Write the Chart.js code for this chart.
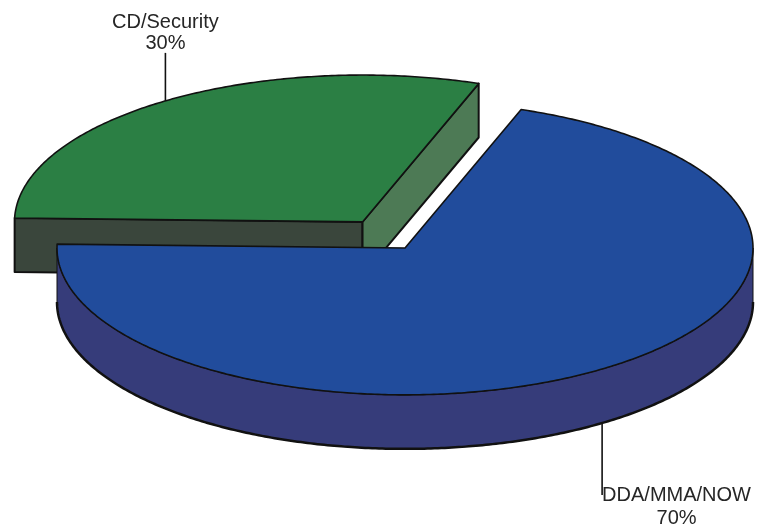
<!DOCTYPE html>
<html lang="en">
<head>
<meta charset="UTF-8" />
<title>Deposit mix</title>
<style>
    html, body { margin: 0; padding: 0; background: #fff; }
    #wrap { position: relative; width: 757px; height: 532px; }
</style>
</head>
<body>
<div id="wrap"><canvas id="pie"></canvas></div>
<script src="https://cdn.jsdelivr.net/npm/chart.js@4.4.0/dist/chart.umd.min.js"></script>
<script>
    // data
    const categories = ["CD/Security", "DDA/MMA/NOW"];
    const shares = [30, 70];
    const shareLabels = ["30%", "70%"];

    // look of the 3d pie
    const topColors = ["#2b7f44", "#214c9c"];
    const wallColors = ["#3b4a3f", "#363c7a"];
    const startFaceColors = ["#3a463c", "#2c3f86"]; // face along the first edge
    const endFaceColors = ["#4d7a55", "#2c3f86"];   // face along the second edge
    const explode = [75, 0];
    const tilt = 0.422;
    const depth = 54;
    const outline = "#111";

    function rim(el, t, d, cy) {
        const r = el.outerRadius;
        return [el.x + r * Math.cos(t), cy + tilt * (el.y - cy + r * Math.sin(t)) + d];
    }
    function centre(el, d, cy) {
        return [el.x, cy + tilt * (el.y - cy) + d];
    }
    function poly(ctx, pts, fill, lw) {
        ctx.beginPath();
        ctx.moveTo(pts[0][0], pts[0][1]);
        for (let i = 1; i < pts.length; i++) ctx.lineTo(pts[i][0], pts[i][1]);
        ctx.closePath();
        if (fill) { ctx.fillStyle = fill; ctx.fill(); }
        ctx.lineWidth = lw || 1;
        ctx.strokeStyle = outline;
        ctx.lineJoin = "round";
        ctx.stroke();
    }
    function arcPts(el, lo, hi, d, cy) {
        const pts = [];
        const n = Math.max(2, Math.ceil((hi - lo) / 0.01));
        for (let i = 0; i <= n; i++) pts.push(rim(el, lo + (hi - lo) * i / n, d, cy));
        return pts;
    }

    const pie3d = {
        id: "pie3d",
        afterUpdate(chart) {
            chart.getDatasetMeta(0).data.forEach((el, i) => {
                const mid = (el.startAngle + el.endAngle) / 2;
                el.x += Math.cos(mid) * explode[i];
                el.y += Math.sin(mid) * explode[i];
            });
        },
        beforeDatasetsDraw(chart) {
            const ctx = chart.ctx;
            const a = chart.chartArea;
            const cy = (a.top + a.bottom) / 2;
            chart.getDatasetMeta(0).data.forEach((el, i) => {
                // curved wall, front half only
                for (let n = -1; n <= 2; n++) {
                    const lo = Math.max(el.startAngle, n * 2 * Math.PI);
                    const hi = Math.min(el.endAngle, n * 2 * Math.PI + Math.PI);
                    if (hi <= lo) continue;
                    const pts = arcPts(el, lo, hi, 0, cy).concat(arcPts(el, lo, hi, depth, cy).reverse());
                    poly(ctx, pts, wallColors[i], 1);
                    ctx.beginPath();
                    arcPts(el, lo, hi, depth, cy).forEach((p, k) => k ? ctx.lineTo(p[0], p[1]) : ctx.moveTo(p[0], p[1]));
                    ctx.lineWidth = 2.5;
                    ctx.stroke();
                }
                // cut faces that turn toward the viewer
                const s = el.startAngle, e = el.endAngle;
                if (Math.cos(s) < 0) {
                    poly(ctx, [centre(el, 0, cy), rim(el, s, 0, cy), rim(el, s, depth, cy), centre(el, depth, cy)], startFaceColors[i], 2);
                }
                if (Math.cos(e) > 0) {
                    poly(ctx, [centre(el, 0, cy), rim(el, e, 0, cy), rim(el, e, depth, cy), centre(el, depth, cy)], endFaceColors[i], 2);
                }
            });
            ctx.save();
            ctx.translate(0, cy);
            ctx.scale(1, tilt);
            ctx.translate(0, -cy);
        },
        afterDatasetsDraw(chart) {
            const ctx = chart.ctx;
            ctx.restore();
            const a = chart.chartArea;
            const cy = (a.top + a.bottom) / 2;
            const arcs = chart.getDatasetMeta(0).data;
            arcs.forEach((el) => {
                const pts = [centre(el, 0, cy)].concat(arcPts(el, el.startAngle, el.endAngle, 0, cy));
                poly(ctx, pts, null, 1.6);
            });

            // labels with leader lines from the middle of each slice
            ctx.save();
            ctx.font = "20px 'Liberation Sans', Arial, sans-serif";
            ctx.fillStyle = "#262626";
            ctx.strokeStyle = "#111";
            ctx.lineWidth = 1.6;

            const g = arcs[0];
            const gp = rim(g, (g.startAngle + g.endAngle) / 2, 0, cy);
            const gTop = gp[1] - 48;
            ctx.beginPath(); ctx.moveTo(gp[0], gp[1]); ctx.lineTo(gp[0], gTop); ctx.stroke();
            ctx.textAlign = "center";
            ctx.fillText(chart.data.labels[0], gp[0], gTop - 25);
            ctx.fillText(shareLabels[0], gp[0], gTop - 4);

            const b = arcs[1];
            const bp = rim(b, (b.startAngle + b.endAngle) / 2, depth, cy);
            const bEnd = bp[1] + 72;
            ctx.beginPath(); ctx.moveTo(bp[0], bp[1]); ctx.lineTo(bp[0], bEnd); ctx.stroke();
            ctx.textAlign = "left";
            const w = ctx.measureText(chart.data.labels[1]).width;
            ctx.fillText(chart.data.labels[1], bp[0], bEnd + 6);
            ctx.textAlign = "center";
            ctx.fillText(shareLabels[1], bp[0] + w / 2, bEnd + 29);
            ctx.restore();
        }
    };

    new Chart(document.getElementById("pie"), {
        type: "pie",
        data: {
            labels: categories,
            datasets: [{
                data: shares,
                backgroundColor: topColors,
                borderWidth: 0,
                radius: 348,
                clip: false
            }]
        },
        options: {
            responsive: true,
            maintainAspectRatio: false,
            animation: false,
            events: [],
            rotation: 271.5,
            layout: { padding: { left: 53, right: 0, top: 0, bottom: 36 } },
            plugins: { legend: { display: false }, tooltip: { enabled: false } }
        },
        plugins: [pie3d]
    });
</script>
</body>
</html>
